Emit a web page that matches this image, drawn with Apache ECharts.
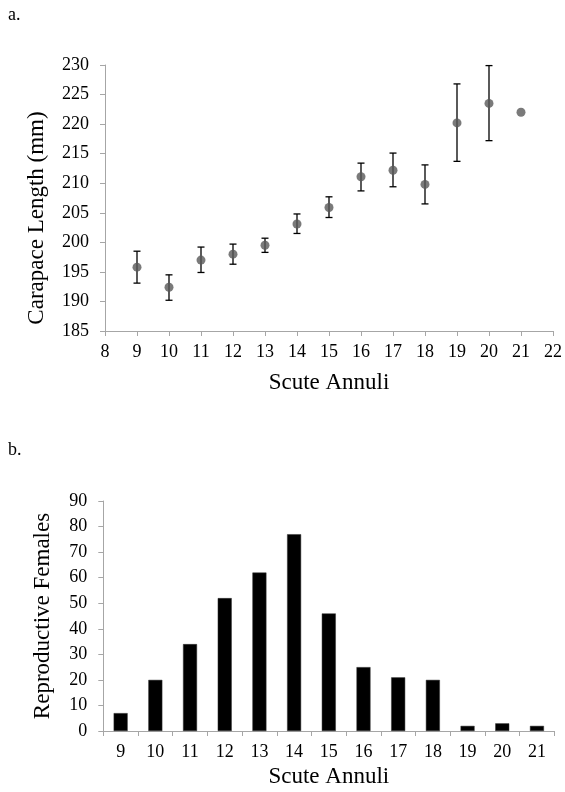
<!DOCTYPE html>
<html>
<head>
<meta charset="utf-8">
<script src="https://cdn.jsdelivr.net/npm/echarts@6/dist/echarts.min.js"></script>
<style>
html,body{margin:0;padding:0;background:#fff;}
#c{width:565px;height:792px;}
</style>
</head>
<body>
<div id="c"></div>
<script>
// Panel a: mean carapace length by scute annuli, with error bars
var annuliA = [9, 10, 11, 12, 13, 14, 15, 16, 17, 18, 19, 20, 21];
var meanLength = [195.8, 192.4, 197.0, 198.0, 199.5, 203.1, 205.9, 211.1, 212.2, 209.8, 220.2, 223.5, 222.0];
var errHigh = [198.5, 194.5, 199.2, 199.7, 200.7, 204.8, 207.7, 213.4, 215.1, 213.1, 226.8, 229.9, null];
var errLow  = [193.1, 190.2, 194.9, 196.3, 198.3, 201.5, 204.2, 208.7, 209.4, 206.5, 213.7, 217.2, null];

// Panel b: reproductive females count by scute annuli
var annuliB = ['9', '10', '11', '12', '13', '14', '15', '16', '17', '18', '19', '20', '21'];
var females = [7, 20, 34, 52, 62, 77, 46, 25, 21, 20, 2, 3, 2];

var FONT = "'Liberation Serif', 'Times New Roman', serif";
var axisGray = '#a6a6a6';

var scatterData = annuliA.map(function (x, i) { return [x, meanLength[i]]; });
var errData = [];
annuliA.forEach(function (x, i) {
  if (errHigh[i] != null) errData.push([x, errLow[i], errHigh[i]]);
});

var chart = echarts.init(document.getElementById('c'), null, {renderer: 'canvas'});

var labelStyle = {color: '#000', fontFamily: FONT, fontSize: 18};
var nameStyle = {color: '#000', fontFamily: FONT, fontSize: 23};

chart.setOption({
  animation: false,
  backgroundColor: '#fff',
  textStyle: {fontFamily: FONT},
  graphic: [
    {type: 'text', left: 8, top: 6, style: {text: 'a.', font: "18px 'Liberation Serif'", fill: '#000'}},
    {type: 'text', left: 8, top: 441, style: {text: 'b.', font: "18px 'Liberation Serif'", fill: '#000'}},
    {type: 'text', x: 37, y: 218, rotation: Math.PI / 2,
     style: {text: 'Carapace Length (mm)', font: "23px 'Liberation Serif'", fill: '#000', textAlign: 'center', textVerticalAlign: 'middle'}}
  ],
  grid: [
    {left: 105, top: 65, width: 450.7, height: 266},
    {left: 103.3, top: 501, width: 451, height: 230}
  ],
  xAxis: [
    {
      gridIndex: 0, type: 'value', min: 8, max: 22, interval: 1,
      name: 'Scute Annuli', nameLocation: 'middle', nameGap: 40, nameTextStyle: nameStyle,
      axisLine: {lineStyle: {color: axisGray, width: 1}},
      axisTick: {show: true, length: 5, inside: false, lineStyle: {color: axisGray}},
      axisLabel: Object.assign({margin: 12}, labelStyle),
      splitLine: {show: false}
    },
    {
      gridIndex: 1, type: 'category', data: annuliB, boundaryGap: true,
      name: 'Scute Annuli', nameLocation: 'middle', nameGap: 34, nameTextStyle: nameStyle,
      axisLine: {lineStyle: {color: axisGray, width: 1}},
      axisTick: {show: true, length: 5, interval: 0, lineStyle: {color: axisGray}},
      axisLabel: Object.assign({margin: 12, interval: 0}, labelStyle)
    }
  ],
  yAxis: [
    {
      gridIndex: 0, type: 'value', min: 185, max: 230, interval: 5,
      axisLine: {show: true, lineStyle: {color: axisGray, width: 1}},
      axisTick: {show: true, length: 5, lineStyle: {color: axisGray}},
      axisLabel: Object.assign({margin: 16}, labelStyle),
      splitLine: {show: false}
    },
    {
      gridIndex: 1, type: 'value', min: 0, max: 90, interval: 10,
      name: 'Reproductive Females', nameLocation: 'middle', nameRotate: 90, nameGap: 49, nameTextStyle: nameStyle,
      axisLine: {show: true, lineStyle: {color: axisGray, width: 1}},
      axisTick: {show: true, length: 5, lineStyle: {color: axisGray}},
      axisLabel: Object.assign({margin: 16}, labelStyle),
      splitLine: {show: false}
    }
  ],
  series: [
    {
      type: 'custom', xAxisIndex: 0, yAxisIndex: 0, data: errData, z: 2,
      renderItem: function (params, api) {
        var x = api.value(0);
        var lo = api.coord([x, api.value(1)]);
        var hi = api.coord([x, api.value(2)]);
        var hw = 3.5;
        var st = {stroke: '#000', lineWidth: 1.3};
        return {
          type: 'group',
          children: [
            {type: 'line', shape: {x1: lo[0], y1: lo[1], x2: hi[0], y2: hi[1]}, style: st},
            {type: 'line', shape: {x1: hi[0] - hw, y1: hi[1], x2: hi[0] + hw, y2: hi[1]}, style: st},
            {type: 'line', shape: {x1: lo[0] - hw, y1: lo[1], x2: lo[0] + hw, y2: lo[1]}, style: st}
          ]
        };
      }
    },
    {
      type: 'scatter', xAxisIndex: 0, yAxisIndex: 0, data: scatterData, z: 3,
      symbol: 'circle', symbolSize: 9,
      itemStyle: {color: '#595959'}
    },
    {
      type: 'bar', xAxisIndex: 1, yAxisIndex: 1, data: females,
      barWidth: 14,
      itemStyle: {color: '#000', borderColor: '#333', borderWidth: 0.5}
    }
  ]
});
</script>
</body>
</html>
